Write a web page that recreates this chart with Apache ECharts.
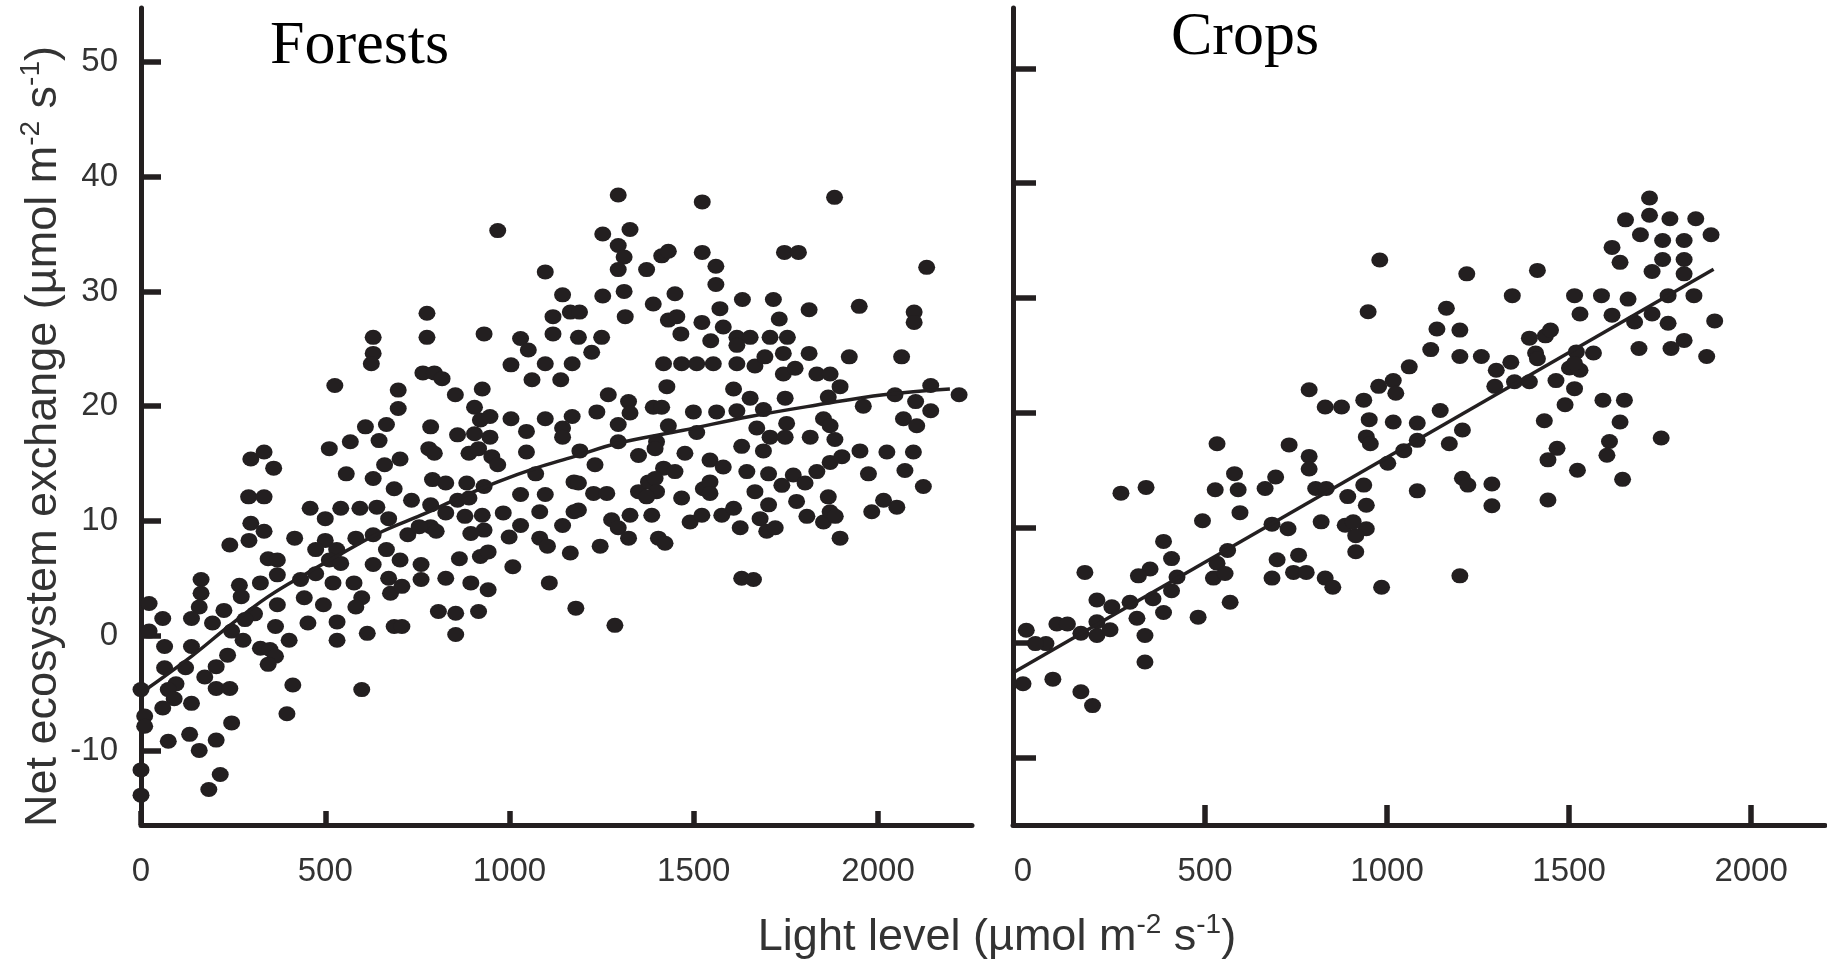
<!DOCTYPE html>
<html><head><meta charset="utf-8">
<script src="https://cdn.jsdelivr.net/npm/echarts@6/dist/echarts.min.js"></script>
<style>html,body{margin:0;padding:0;background:#fff}#c{width:1827px;height:965px}</style>
</head><body><div id="c"></div>
<script>
// ---- tick labels ----
const xTicks = [0, 500, 1000, 1500, 2000];
const xTickMarksRight = [500, 1000, 1500, 2000];
const yTicks = [-10, 0, 10, 20, 30, 40, 50];
const panelTitles = ['Forests', 'Crops'];

// ---- Forests: light level vs NEE ----
const forestPoints = [
[968,35.3],[1097,31.7],[1144,29.7],[776,28.1],[776,26.0],[630,26.0],[630,24.6],[625,23.7],[931,26.3],[1118,27.8],[1165,28.2],[1030,25.9],[1118,26.3],[1051,24.9],[1097,23.7],[1004,23.6],[1170,23.7],[1061,22.3],[1139,22.3],[765,22.9],[796,22.9],[817,22.4],[526,21.8],[698,21.4],[853,21.0],[926,21.5],[905,19.9],[921,18.8],[947,19.1],[1004,18.9],[1097,18.9],[1170,19.1],[698,19.8],[666,18.4],[609,18.2],[786,18.2],[1144,18.1],[1144,17.3],[1046,17.8],[859,17.5],[905,17.6],[947,17.3],[646,17.0],[568,16.9],[511,16.3],[781,16.3],[796,15.9],[703,15.4],[661,14.9],[890,15.9],[916,16.3],[952,15.6],[968,14.9],[1046,16.0],[298,15.4],[334,16.0],[360,14.6],[557,14.1],[1071,14.1],
[630,13.7],[687,12.8],[791,13.6],[827,13.3],[884,13.3],[931,13.0],[1175,13.4],[292,12.1],[334,12.1],[459,11.1],[542,11.1],[594,11.1],[640,11.2],[734,11.8],[786,11.4],[827,10.7],[859,11.8],[890,12.0],[983,10.7],[1030,12.3],[1082,10.8],[1097,12.3],[1175,10.8],[500,10.2],[672,10.2],[786,9.5],[801,9.1],[879,10.4],[926,10.5],[931,9.2],[895,8.9],[1144,9.6],[298,9.8],[334,9.1],[293,8.3],[241,7.9],[417,8.5],[500,8.3],[583,8.5],[630,8.8],[724,8.8],[755,9.5],[999,8.6],[1030,9.6],[1082,8.5],[1103,7.8],[1165,7.2],[474,7.5],[531,7.5],[511,6.6],[542,6.3],[345,6.7],[370,6.6],[666,7.5],[703,6.6],[630,6.2],[760,6.2],[864,6.7],[921,6.9],[942,7.3],[1009,6.0],[672,5.0],[760,4.9],[827,5.0],[895,4.6],[942,4.0],[1108,4.6],[433,4.9],[474,5.4],[521,4.6],[578,4.6],[370,5.3],[324,4.6],[267,4.4],[163,4.9],[163,3.7],[443,3.3],[677,3.7],[708,4.3],[599,3.3],[583,2.5],[495,2.7],[370,2.7],[272,3.4],[308,1.9],[225,2.2],[194,1.1],[158,2.5],[137,1.5],[807,2.1],[854,1.95],[916,2.1],[1180,2.4],[453,1.1],[532,1.2],[365,0.8],[282,1.4],[246,0.4],[687,0.8],[708,0.8],[614,0.2],[532,-0.4],[854,0.1],[277,-0.4],[402,-0.4],[324,-1.1],[350,-1.2],[365,-1.8],[345,-2.5],[137,-0.95],[59,1.5],[22,2.8],[22,0.4],[64,-0.95],[235,-1.7],[204,-2.7],[121,-2.8],[64,-2.8],[173,-3.6],[204,-4.6],[241,-4.6],[95,-4.2],[74,-4.7],[90,-5.5],[0,-4.7],[59,-6.3],[137,-5.9],[412,-4.3],[599,-4.7],[396,-6.8],[246,-7.6],[10,-7.0],[10,-7.9],[74,-9.2],[132,-8.6],[158,-10.0],[204,-9.1],[215,-12.1],[184,-13.4],[0,-11.7],[0,-13.9],
[1295,38.4],[1523,37.8],[1882,38.2],[1253,35.0],[1327,35.4],[1295,34.0],[1311,33.0],[1295,31.9],[1372,31.9],[1413,33.1],[1431,33.5],[1523,33.4],[1560,32.2],[1746,33.4],[1784,33.4],[2132,32.1],[1560,30.6],[1253,29.6],[1311,30.0],[1449,29.8],[1632,29.3],[1716,29.3],[1813,28.4],[1949,28.7],[2098,28.2],[2098,27.3],[1190,28.2],[1314,27.8],[1390,28.9],[1431,27.5],[1454,27.8],[1465,26.3],[1522,27.3],[1571,28.5],[1580,26.9],[1732,27.6],[1617,26.0],[1653,26.0],[1617,25.3],[1707,26.0],[1754,26.0],[1546,25.7],[1187,26.0],[1250,26.0],[1223,24.7],[1418,23.7],[1467,23.7],[1508,23.7],[1553,23.7],[1617,23.7],[1666,23.5],[1693,24.3],[1743,24.6],[1813,24.6],[1922,24.3],[2064,24.3],[1743,22.8],[1775,23.3],[1834,22.8],[1870,22.8],[1897,21.7],[1427,21.7],[1608,21.5],[1653,20.7],[1865,20.8],[1748,20.7],[2143,21.8],[2220,21.0],[2046,21.0],[2102,20.4],[2143,19.6],[1960,20.0],[1268,21.0],[1323,20.4],[1327,19.4],[1390,19.9],[1413,19.9],[1499,19.5],[1562,19.5],[1617,19.6],[1689,19.7],[1852,18.9],[1870,18.3],[2069,18.9],[2105,18.3],[1237,19.5],[1295,18.4],[1431,18.3],[1508,17.7],[1752,18.5],[1671,18.1],[1707,17.3],[1748,17.3],[1816,17.3],[1883,17.1],[1295,16.9],[1399,16.9],[1191,16.1],[1630,16.5],[1689,16.1],[1951,16.1],[2024,16.0],[2096,16.0],[1350,15.7],[1476,15.9],[1395,16.3],[1232,14.9],[1870,15.1],[1902,15.6],[1544,15.3],[1580,14.7],[1418,14.6],[1449,14.3],[1974,14.1],[2073,14.4],[1644,14.3],[1703,14.1],[1834,14.3],
[2123,13.0],[1187,13.3],[1228,12.4],[1264,12.4],[1350,12.55],[1377,13.4],[1395,13.7],[1399,12.55],[1467,12.0],[1526,12.8],[1544,13.4],[1544,12.4],[1666,12.55],[1703,11.4],[1739,13.1],[1770,14.0],[1802,13.3],[1779,11.7],[1865,12.1],[1807,10.4],[1852,9.9],[1870,10.8],[1884,10.4],[1897,8.5],[2015,11.8],[2051,11.2],[1983,10.8],[1187,10.95],[1246,7.8],[1277,10.1],[1295,9.4],[1323,8.5],[1327,10.5],[1386,10.5],[1372,12.1],[1404,8.5],[1422,8.05],[1490,9.9],[1522,10.5],[1576,10.5],[1608,11.1],[1626,9.4],[1680,10.2],[1698,9.1],[1721,9.4],[1630,5.0],[1662,4.9],[1286,0.9]
];
const forestCurveX = [0, 137, 241, 345, 448, 552, 656, 760, 864, 968, 1071, 1175, 1291, 1472, 1653, 1834, 2015, 2195];
const forestCurveY = [-5.0, -1.8, 0.9, 3.4, 5.4, 7.3, 9.1, 10.5, 12.0, 13.4, 14.6, 15.6, 16.75, 17.9, 19.1, 20.1, 21.0, 21.5];

// ---- Crops: light level vs NEE ----
const cropPoints = [
[1721,38.7],[1655,36.8],[1721,37.2],[1777,36.9],[1848,36.9],[1696,35.5],[1757,35.0],[1816,35.0],[1890,35.5],[1618,34.4],[1640,33.1],[1757,33.35],[1816,33.35],[1728,32.3],[1816,32.1],[1772,30.2],[1843,30.2],[980,33.3],[1219,32.1],[1413,32.4],[948,28.8],[1344,30.2],[1515,30.2],[1589,30.2],[1662,29.9],[1530,28.6],[1618,28.5],[1728,28.6],[1680,27.9],[1772,27.8],[1900,28.0],[1163,29.1],[1137,27.3],[1200,27.2],[1435,26.7],[1391,26.5],[1449,27.2],[1816,26.3],[1780,25.6],[1692,25.6],[1120,25.5],[1200,24.9],[1259,24.9],[1408,25.2],[1413,24.7],[1520,25.3],[1567,25.2],[1878,24.9],[1340,24.4],[1300,23.7],[1501,23.9],[1530,23.7],[1515,24.3],[1061,24.0],[1296,22.3],[1350,22.7],[1391,22.7],[1464,22.8],[1515,22.1],[1017,22.8],[1024,21.7],[977,22.3],[936,21.1],[786,22.0],[830,20.5],[875,20.5],[1146,20.2],[1489,20.7],[1593,21.1],[1652,21.1],[1640,19.2],[951,19.4],[1017,19.2],[1083,19.1],[1432,19.3],[1207,18.5],[943,17.9],[954,17.3],[1083,17.6],[1171,17.3],[1046,16.7],[1753,17.8],[1611,17.5],[1604,16.3],[1467,16.9],[1442,15.9],[533,17.3],[731,17.2],[786,16.2],[786,15.1],[1002,15.6],[1523,15.0],[581,14.7],
[1647,14.2],[1442,12.4],[1288,13.8],[1288,11.9],[1207,14.3],[1222,13.7],[1083,13.2],[1200,5.8],[936,13.7],[943,11.95],[943,9.9],[892,12.7],[914,9.3],[914,7.9],[885,10.2],[907,10.5],[804,13.4],[833,13.4],[819,10.5],[694,14.4],[665,13.4],[684,10.3],[728,9.9],[698,7.2],[757,7.6],[684,5.6],[743,6.1],[778,6.1],[830,5.6],[851,4.8],[985,4.8],[591,13.3],[528,13.3],[596,11.3],[562,8.0],[493,10.6],[533,6.9],[523,5.6],[555,6.0],[569,3.5],[481,2.2],[408,7.3],[423,5.7],[408,4.5],[386,8.8],[349,6.4],[317,5.8],[357,3.8],[386,2.6],[313,2.1],[335,0.6],[335,-1.7],[294,3.5],[244,3.1],[203,3.7],[203,1.8],[203,0.6],[239,1.1],[159,0.8],[170,6.1],[93,1.6],[122,1.6],[63,-0.1],[34,-0.1],[9,1.06],[0,-3.6],[82,-3.2],[159,-4.3],[191,-5.5],[269,13.0],[338,13.5]
];
const cropLineX = [-25, 1897];
const cropLineY = [-2.6, 32.5];

// ---- styling ----
const INK = '#231f20';
const LABEL = '#333333';
const sans = 'Liberation Sans, Arial, Helvetica, sans-serif';
const serif = 'Liberation Serif, Times New Roman, serif';

function zip(xs, ys) { return xs.map((x, i) => [x, ys[i]]); }
const plain = v => String(v);

const titleRich = {
  b: { fontSize: 45, fontFamily: sans, fontWeight: 'normal', color: LABEL, lineHeight: 54 },
  s: { fontSize: 28, fontFamily: sans, fontWeight: 'normal', color: LABEL, lineHeight: 30, verticalAlign: 'top' }
};

function xAxisCfg(grid, min, max, tickLen, tickVals) {
  return {
    type: 'value', gridIndex: grid, min: min, max: max,
    axisLine: { show: true, onZero: false, lineStyle: { color: INK, width: 5 } },
    axisTick: { show: true, inside: true, length: tickLen, customValues: tickVals, lineStyle: { color: INK, width: 5.5 } },
    axisLabel: { show: true, customValues: xTicks, formatter: plain, fontSize: 33, fontFamily: sans, color: LABEL, margin: 30 },
    splitLine: { show: false }
  };
}
function yAxisCfg(grid, min, max, tickLen, showLabels) {
  return {
    type: 'value', gridIndex: grid, min: min, max: max,
    axisLine: { show: true, onZero: false, lineStyle: { color: INK, width: 5 } },
    axisTick: { show: true, inside: true, length: tickLen, customValues: yTicks, lineStyle: { color: INK, width: 5.5 } },
    axisLabel: { show: showLabels, customValues: yTicks, formatter: plain, fontSize: 33, fontFamily: sans, color: LABEL, margin: 23 },
    splitLine: { show: false }
  };
}

const chart = echarts.init(document.getElementById('c'), null, { renderer: 'canvas' });
const yLeft = yAxisCfg(0, -16.5, 54.7, 20, true);
yLeft.name = '{b|Net ecosystem exchange (µmol m}{s|-2}{b| s}{s|-1}{b|)}';
yLeft.nameLocation = 'middle';
yLeft.nameRotate = 90;
yLeft.nameGap = 70;
yLeft.nameMoveOverlap = false;
yLeft.nameTextStyle = { rich: titleRich, fontWeight: 'normal', padding: [0, 40, 0, 0] };

chart.setOption({
  backgroundColor: '#ffffff',
  animation: false,
  title: [
    { text: panelTitles[0], left: 270, top: 16, padding: 0, textStyle: { fontFamily: serif, fontSize: 62, fontWeight: 'normal', color: '#000' } },
    { text: panelTitles[1], left: 1171, top: 7, padding: 0, textStyle: { fontFamily: serif, fontSize: 62, fontWeight: 'normal', color: '#000' } },
    { text: '{b|Light level (µmol m}{s|-2}{b| s}{s|-1}{b|)}', left: 997, textAlign: 'center', top: 911, padding: 0, textStyle: { rich: titleRich, fontWeight: 'normal' } }
  ],
  grid: [
    { left: 141, top: 8, width: 831, height: 817, outerBoundsMode: 'none', containLabel: false },
    { left: 1013, top: 8, width: 812, height: 817, outerBoundsMode: 'none', containLabel: false }
  ],
  xAxis: [ xAxisCfg(0, 0, 2255, 14, xTicks), xAxisCfg(1, -27.5, 2203, 20, xTickMarksRight) ],
  yAxis: [ yLeft, yAxisCfg(1, -15.9, 55.25, 23, false) ],
  series: [
    { type: 'scatter', xAxisIndex: 0, yAxisIndex: 0, data: forestPoints, symbol: 'circle', symbolSize: [17, 15], itemStyle: { color: INK, opacity: 1 }, z: 2 },
    { type: 'line', xAxisIndex: 0, yAxisIndex: 0, data: zip(forestCurveX, forestCurveY), smooth: 0.4, symbol: 'none', lineStyle: { color: INK, width: 3.5 }, z: 3 },
    { type: 'scatter', xAxisIndex: 1, yAxisIndex: 1, data: cropPoints, symbol: 'circle', symbolSize: [17, 15], itemStyle: { color: INK, opacity: 1 }, z: 2 },
    { type: 'line', xAxisIndex: 1, yAxisIndex: 1, data: zip(cropLineX, cropLineY), symbol: 'none', lineStyle: { color: INK, width: 3.5 }, z: 3 }
  ]
});
</script>
</body></html>
